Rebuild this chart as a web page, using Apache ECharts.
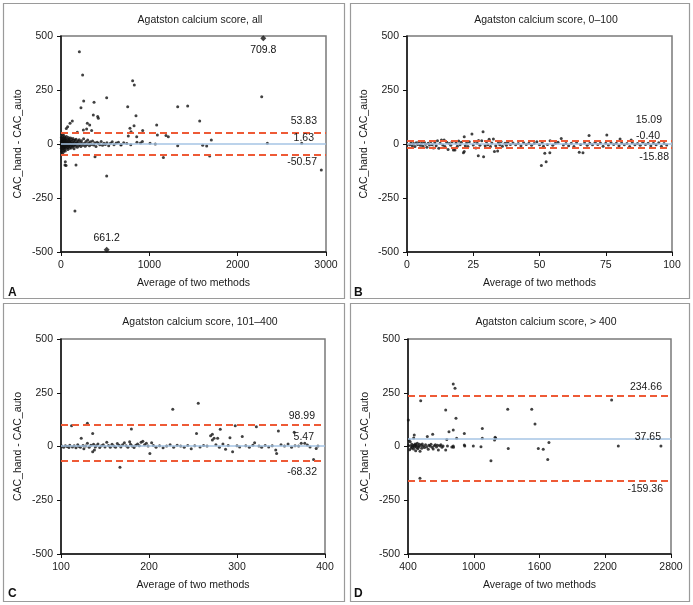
<!DOCTYPE html>
<html><head><meta charset="utf-8">
<script src="https://cdn.jsdelivr.net/npm/echarts@6/dist/echarts.min.js"></script>
<style>html,body{margin:0;padding:0;background:#fff}#c{width:693px;height:605px}</style>
</head><body><div id="c"></div>
<script>
// ---------- DATA ----------
const titles = ['Agatston calcium score, all', 'Agatston calcium score, 0\u2013100', 'Agatston calcium score, 101\u2013400', 'Agatston calcium score, > 400'];
const panelLetters = ['A', 'B', 'C', 'D'];
const yTicks = [-500, -250, 0, 250, 500];
const aTicksX = [0, 1000, 2000, 3000];
const bTicksX = [0, 25, 50, 75, 100];
const cTicksX = [100, 200, 300, 400];
const dTicksX = [400, 1000, 1600, 2200, 2800];
// [upper limit, mean difference, lower limit]
const aLimits = [53.83, 1.63, -50.57];
const bLimits = [15.09, -0.40, -15.88];
const cLimits = [98.99, 5.47, -68.32];
const dLimits = [234.66, 37.65, -159.36];
// clipped outliers in panel A (plotted at the axis edge, labelled with true value)
const aOutlierX = [2290, 517];
const aOutlierY = [490, -490];
const aOutlierText = ['709.8', '661.2'];

const aPts = [
[2,-5],[3,12],[4,-20],[5,30],[6,-35],[7,8],[8,-12],[9,22],[10,-2],[11,45],[12,-28],[13,15],[14,-8],[15,5],[16,-45],[17,18],[18,-15],[19,35],[20,2],[21,-22],[22,10],[23,-5],[24,28],[25,-38],[26,6],[27,-10],[28,16],[29,-3],[30,40],[31,-18],[32,9],[33,-30],[34,20],[35,-6],[36,12],[37,-14],[38,25],[39,0],[40,-25],[41,14],[42,-8],[43,32],[44,4],[45,-16],[46,20],[47,-2],[48,10],[49,-32],[50,18],[52,-6],[54,26],[56,-12],[58,8],[60,-20],[62,35],[64,2],[66,-10],[68,15],[70,-4],[72,22],[74,-16],[76,6],[78,-26],[80,12],[82,0],[84,30],[86,-8],[88,18],[90,-12],[92,5],[94,24],[96,-20],[98,10],[100,-5],[103,15],[106,-10],[109,28],[112,4],[115,-18],[118,12],[121,-2],[124,20],[127,-8],[130,6],[133,-14],[136,25],[139,2],[142,-6],[145,16],[148,-22],[151,8],[155,-3],[159,18],[163,-10],[167,5],[171,22],[175,-4],[180,10],[185,-15],[190,3],[195,14],[200,-8],[206,20],[212,-2],[218,8],[225,-12],[232,15],[240,2],[248,-6],[256,24],[265,4],[274,-10],[283,12],[292,-3],[302,18],[312,5],[322,-8],[333,10],[345,-2],[357,14],[370,-5],[383,6],[396,-12],[410,8],[425,2],[440,-4],[455,12],[470,-6],[486,4],[502,-2],[520,6],[540,-8],[560,3],[580,10],[600,-3],[625,5],[650,8],[680,-2],[710,6],[745,2],[790,-3],[860,8],[900,5],
[45,-97],[49,-82],[57,-100],[60,72],[75,80],[102,96],[128,106],[158,-310],[170,-97],[185,54],[208,427],[226,168],[245,319],[253,65],[257,199],[290,69],[298,96],[325,88],[347,62],[366,134],[374,193],[385,-59],[415,127],[423,119],[517,214],[517,-148],[679,-5],[755,173],[762,37],[781,73],[793,57],[811,293],[827,85],[830,273],[849,131],[857,34],[921,11],[925,62],[1008,3],[1068,0],[1083,88],[1091,42],[1159,-63],[1189,39],[1215,34],[1321,173],[1321,-8],[1434,176],[1570,106],[1604,-6],[1649,-9],[1683,-56],[1702,19],[2272,219],[2336,3],[2725,3],[2947,-120]
];
const bPts = [
[1,-3],[1.5,5],[2,-8],[2.5,2],[3,-12],[3.5,6],[4,-2],[4.5,10],[5,-6],[5.5,3],[6,-10],[6.5,8],[7,-1],[7.5,-15],[8,4],[8.5,-5],[9,12],[9.5,-3],[10,-18],[10.5,6],[11,-8],[11.5,15],[12,-20],[12.5,3],[13,19],[13.5,-5],[14,19],[14.3,-12],[15,8],[15.5,-25],[16,2],[16.5,-6],[17,10],[17.5,-28],[18.1,-28],[18.5,5],[19,-10],[19.5,14],[20,-3],[20.5,8],[21.3,-40],[21.6,-35],[21.6,34],[22,-8],[22.5,5],[23,-12],[23.5,10],[24.5,46],[25,-5],[25.5,12],[26,-18],[26.5,3],[26.9,-54],[27,16],[27.5,-6],[28.2,15],[28.7,57],[28.9,-59],[29.5,-8],[30,10],[30.5,-3],[31,22],[31.5,-12],[32,5],[32.6,23],[33,-35],[33.5,-8],[34.2,-32],[34.5,6],[35,-4],[35.5,12],[36,-10],[37,3],[37.5,-6],[38,8],[39,-2],[40,5],[41,-4],[42,2],[43,-8],[44,6],[45,-2],[46,4],[47,-6],[48,2],[49,10],[50,-4],[50.7,-100],[51,6],[51.5,-10],[52,-43],[52.5,-82],[53,-2],[53.9,-40],[54,15],[55,-6],[56,3],[57,8],[58.2,26],[59,-5],[60,2],[61,-8],[62,4],[63,-12],[64,6],[65,-38],[65.5,-2],[66.4,-40],[67,5],[68,-6],[68.7,39],[69,3],[70,-4],[71,8],[72,-2],[73,5],[74,-10],[75,3],[75.4,42],[76,-5],[77,6],[78,-2],[79,4],[80,-8],[80.4,23],[81,5],[82,-3],[83,2],[84,-12],[84.6,19],[85,6],[86,-4],[87,2],[88,-6],[89,8],[90,-2],[91,4],[92,-8],[93,3],[94,-4],[95,6],[96,-10],[97,2],[98,-5]
];
const cPts = [
[101,2],[103,-3],[105,4],[107,0],[109,-5],[110,6],[112,97],[113,-2],[115,3],[117,-6],[119,8],[120,1],[122,-4],[123,38],[125,5],[126,-10],[128,2],[130,108],[130,15],[132,-3],[134,6],[136,61],[136,-24],[137,10],[138,-16],[139,-2],[140,4],[142,12],[144,-5],[146,3],[148,8],[150,-2],[152,20],[154,5],[156,-3],[158,10],[160,2],[162,-4],[164,14],[166,6],[167,-97],[168,-2],[170,8],[172,18],[174,4],[176,-3],[178,22],[179,10],[180,81],[181,2],[183,-5],[185,6],[187,12],[189,3],[191,20],[193,25],[195,8],[197,15],[199,2],[201,-32],[203,18],[205,5],[208,-3],[212,4],[216,-6],[220,2],[224,8],[227,173],[228,-4],[232,6],[236,2],[240,-3],[244,5],[248,-10],[252,3],[254,61],[256,201],[258,-2],[262,5],[266,2],[270,50],[272,57],[272,30],[274,38],[276,8],[278,38],[280,-3],[281,80],[284,12],[287,-13],[290,5],[292,41],[295,-24],[298,97],[300,4],[303,-2],[306,46],[310,3],[314,-4],[318,6],[320,18],[322,92],[325,2],[328,-3],[332,5],[336,-2],[340,4],[344,-16],[345,-32],[347,72],[350,8],[354,2],[358,12],[362,-3],[365,66],[366,4],[370,2],[373,15],[377,15],[380,7],[383,-2],[387,-60],[390,-9],[392,2]
];
const dPts = [
[403,123],[405,5],[410,30],[415,-15],[420,22],[425,2],[430,-8],[435,10],[440,-3],[445,4],[450,-12],[452,40],[455,6],[457,53],[460,-2],[465,12],[470,-20],[472,2],[475,8],[480,-5],[485,15],[490,-10],[495,3],[500,-2],[505,10],[509,-148],[510,-22],[516,213],[520,5],[525,-8],[530,12],[540,2],[550,-5],[560,8],[570,-2],[576,46],[585,-13],[590,6],[600,2],[610,10],[620,-4],[625,57],[630,-12],[640,4],[650,8],[660,-2],[670,6],[677,-16],[690,3],[700,8],[710,-4],[720,2],[744,170],[744,-16],[754,33],[760,2],[774,69],[800,-2],[813,291],[813,77],[813,2],[815,-4],[829,271],[838,131],[844,38],[914,61],[914,7],[918,2],[996,2],[1066,-1],[1078,84],[1078,38],[1157,-66],[1190,30],[1195,43],[1200,38],[1310,173],[1315,-9],[1529,173],[1559,105],[1589,-9],[1634,-13],[1675,-60],[1686,19],[2258,216],[2319,2],[2708,2]
];

// ---------- LAYOUT / STYLE ----------
const FONT = 'Liberation Sans';
const FS = 10.5;
const TXT = '#1a1a1a';
const RED = '#ee5a36';
const BLUE = '#a6c5e4';

const panels = [
  {grid:[61,36,265,216], xr:[0,3000], ticks:aTicksX, pts:aPts, lim:aLimits, titleX:200, titleY:15, letter:[8,293],
   dist:[[9,6],[12,0],[9,2]]},
  {grid:[407,36,265,216], xr:[0,100], ticks:bTicksX, pts:bPts, lim:bLimits, titleX:546, titleY:15, letter:[354,293],
   dist:[[10,15],[12,2],[3,4]]},
  {grid:[61,339,264,215], xr:[100,400], ticks:cTicksX, pts:cPts, lim:cLimits, titleX:200, titleY:317, letter:[8,594],
   dist:[[10,4],[11,3],[8,5]]},
  {grid:[408,339,263,215], xr:[400,2800], ticks:dTicksX, pts:dPts, lim:dLimits, titleX:546, titleY:317, letter:[354,594],
   dist:[[9,3],[10,-4],[8,3]]}
];

const plain = v => String(v);

const option = {
  animation: false,
  backgroundColor: '#fff',
  textStyle: {fontFamily: FONT},
  title: [], grid: [], xAxis: [], yAxis: [], series: [],
  graphic: []
};

// panel frames
[[3,3,341,295],[350,3,339,295],[3,303,341,298],[350,303,339,298]].forEach(r => {
  option.graphic.push({type:'rect', shape:{x:r[0]+0.5,y:r[1]+0.5,width:r[2],height:r[3]},
    style:{fill:'none', stroke:'#9a9a9a', lineWidth:1.2}, z:0, silent:true});
});

panels.forEach((p, i) => {
  option.title.push({text: titles[i], left: p.titleX, top: p.titleY, textAlign:'center', padding:0,
    textStyle:{fontFamily:FONT, fontSize:FS, fontWeight:'normal', color:TXT}});
  option.grid.push({left:p.grid[0], top:p.grid[1], width:p.grid[2], height:p.grid[3], show:true,
    borderColor:'#7a7a7a', borderWidth:1.5, backgroundColor:'transparent'});
  option.xAxis.push({type:'value', gridIndex:i, min:p.xr[0], max:p.xr[1],
    name:'Average of two methods', nameLocation:'middle', nameGap:26,
    nameTextStyle:{fontFamily:FONT, fontSize:FS, color:TXT},
    axisLine:{onZero:false, lineStyle:{color:'#111', width:1.5}},
    axisTick:{show:true, length:4, lineStyle:{color:'#111'}, customValues:p.ticks},
    axisLabel:{margin:8, fontFamily:FONT, fontSize:FS, color:TXT, customValues:p.ticks, formatter:plain},
    splitLine:{show:false}});
  option.yAxis.push({type:'value', gridIndex:i, min:-500, max:500, interval:250,
    name:'CAC_hand - CAC_auto', nameLocation:'middle', nameGap:37,
    nameTextStyle:{fontFamily:FONT, fontSize:FS, color:TXT},
    axisLine:{show:true, onZero:false, lineStyle:{color:'#111', width:1.5}},
    axisTick:{show:true, length:4, lineStyle:{color:'#111'}, customValues:yTicks},
    axisLabel:{margin:8, fontFamily:FONT, fontSize:FS, color:TXT, customValues:yTicks, formatter:plain},
    splitLine:{show:false}});

  const mlData = p.lim.map((v, k) => ({
    yAxis: v,
    lineStyle: k === 1 ? {color:BLUE, width:1.5, type:'solid'} : {color:RED, width:2, type:[7,4]},
    label: {show:true, position: k === 2 ? 'insideEndBottom' : 'insideEndTop', distance:p.dist[k],
      formatter: v.toFixed(2), fontFamily:FONT, fontSize:FS, color:TXT}
  }));
  option.series.push({type:'line', xAxisIndex:i, yAxisIndex:i, data:[], z:1,
    markLine:{silent:true, symbol:['none','none'], animation:false, data:mlData}});
  option.series.push({type:'scatter', xAxisIndex:i, yAxisIndex:i, data:p.pts, z:3,
    symbol:'circle', symbolSize:3, itemStyle:{color:'#111'}, silent:true});

  option.graphic.push({type:'text', x:p.letter[0], y:p.letter[1], silent:true,
    style:{text:panelLetters[i], fill:'#111', font:'bold 12px ' + FONT, verticalAlign:'middle'}});
});

// outliers in panel A
option.series.push({type:'scatter', xAxisIndex:0, yAxisIndex:0, z:4, silent:true,
  symbol:'diamond', symbolSize:6, itemStyle:{color:'#111'},
  label:{show:true, color:'#111', opacity:1, textBorderWidth:0, fontFamily:FONT, fontSize:FS},
  data: aOutlierX.map((x, k) => ({value:[x, aOutlierY[k]],
    label:{show:true, formatter:aOutlierText[k], position: aOutlierY[k] > 0 ? 'bottom' : 'top', distance:3,
      color:'#111', opacity:1, textBorderWidth:0}}))
});

const chart = echarts.init(document.getElementById('c'), null, {renderer:'canvas'});
chart.setOption(option);
</script>
</body></html>
